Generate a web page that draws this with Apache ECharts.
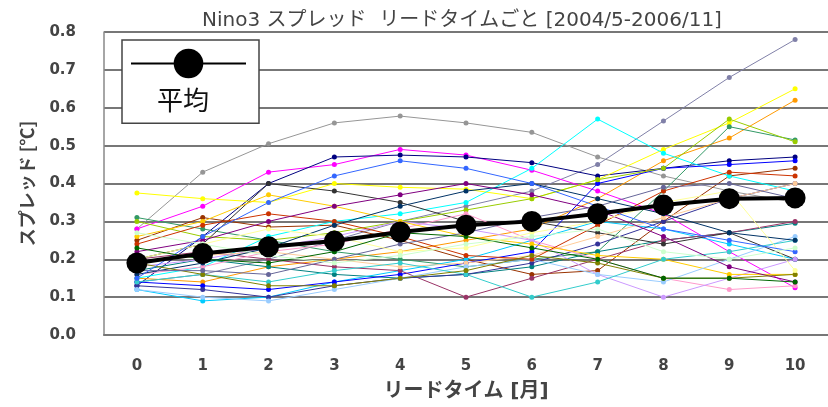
<!DOCTYPE html>
<html>
<head>
<meta charset="utf-8">
<script src="https://cdn.jsdelivr.net/npm/echarts@6/dist/echarts.min.js"></script>
<style>
  html, body { margin: 0; padding: 0; background: #fff; }
  #chart { width: 828px; height: 407px; }
</style>
</head>
<body>
<div id="chart"></div>
<script>
// lead time (months)
const leadTimes = ['0', '1', '2', '3', '4', '5', '6', '7', '8', '9', '10']

// ensemble mean spread
const meanSpread = [0.19, 0.215, 0.233, 0.248, 0.272, 0.29, 0.30, 0.32, 0.343, 0.36, 0.362]

// individual spreads (rough)
const memberColors = [
  '#969696', '#8080a8', '#ff00ff', '#000080', '#ffff00', '#ff9900', '#993300', '#339966',
  '#008080', '#00ffff', '#00ccff', '#0000ff', '#993366', '#333333', '#99cc00', '#333399',
  '#ff99cc', '#cc99ff', '#ffcc99', '#ffcc00', '#99ccff', '#33cccc', '#cc3300', '#003366',
  '#800080', '#808000', '#666699', '#ffff99', '#3366ff', '#006600', '#ccffcc',
]
const memberSpreads = [
  [0.28, 0.43, 0.505, 0.56, 0.578, 0.56, 0.535, 0.47, 0.42, 0.38, 0.35],
  [0.14, 0.16, 0.20, 0.25, 0.30, 0.34, 0.38, 0.45, 0.565, 0.68, 0.78],
  [0.28, 0.34, 0.43, 0.45, 0.49, 0.475, 0.435, 0.38, 0.32, 0.22, 0.125],
  [0.13, 0.26, 0.40, 0.47, 0.475, 0.47, 0.455, 0.42, 0.44, 0.46, 0.47],
  [0.375, 0.36, 0.35, 0.40, 0.39, 0.385, 0.36, 0.41, 0.49, 0.56, 0.65],
  [0.15, 0.14, 0.18, 0.20, 0.22, 0.25, 0.28, 0.36, 0.46, 0.52, 0.62],
  [0.25, 0.31, 0.285, 0.29, 0.25, 0.20, 0.16, 0.17, 0.30, 0.42, 0.44],
  [0.31, 0.28, 0.25, 0.22, 0.20, 0.18, 0.20, 0.22, 0.38, 0.55, 0.515],
  [0.17, 0.20, 0.18, 0.16, 0.15, 0.16, 0.18, 0.22, 0.25, 0.27, 0.295],
  [0.15, 0.18, 0.26, 0.30, 0.32, 0.35, 0.44, 0.57, 0.48, 0.42, 0.38],
  [0.12, 0.09, 0.10, 0.14, 0.17, 0.20, 0.25, 0.30, 0.28, 0.24, 0.20],
  [0.14, 0.13, 0.12, 0.14, 0.16, 0.19, 0.22, 0.40, 0.44, 0.45, 0.46],
  [0.20, 0.22, 0.20, 0.18, 0.17, 0.10, 0.15, 0.20, 0.25, 0.27, 0.30],
  [0.20, 0.24, 0.40, 0.38, 0.35, 0.30, 0.30, 0.27, 0.24, 0.27, 0.20],
  [0.30, 0.26, 0.25, 0.27, 0.30, 0.33, 0.36, 0.41, 0.44, 0.57, 0.51],
  [0.13, 0.12, 0.10, 0.13, 0.15, 0.16, 0.19, 0.24, 0.30, 0.36, 0.40],
  [0.16, 0.18, 0.22, 0.24, 0.28, 0.32, 0.25, 0.20, 0.15, 0.12, 0.13],
  [0.18, 0.20, 0.23, 0.26, 0.30, 0.28, 0.25, 0.16, 0.10, 0.15, 0.20],
  [0.19, 0.21, 0.22, 0.20, 0.18, 0.19, 0.21, 0.26, 0.31, 0.36, 0.40],
  [0.26, 0.30, 0.37, 0.34, 0.30, 0.26, 0.24, 0.21, 0.20, 0.16, 0.16],
  [0.12, 0.10, 0.09, 0.12, 0.15, 0.18, 0.20, 0.16, 0.14, 0.20, 0.26],
  [0.14, 0.16, 0.14, 0.17, 0.19, 0.16, 0.10, 0.14, 0.20, 0.22, 0.25],
  [0.24, 0.29, 0.32, 0.30, 0.26, 0.21, 0.20, 0.29, 0.38, 0.43, 0.42],
  [0.16, 0.19, 0.23, 0.29, 0.34, 0.38, 0.40, 0.36, 0.32, 0.27, 0.25],
  [0.22, 0.25, 0.30, 0.34, 0.37, 0.40, 0.37, 0.33, 0.26, 0.18, 0.14],
  [0.19, 0.16, 0.13, 0.13, 0.15, 0.17, 0.21, 0.19, 0.15, 0.15, 0.16],
  [0.17, 0.17, 0.16, 0.20, 0.24, 0.27, 0.31, 0.34, 0.39, 0.40, 0.36],
  [0.20, 0.24, 0.28, 0.26, 0.22, 0.23, 0.27, 0.30, 0.35, 0.38, 0.17],
  [0.15, 0.26, 0.35, 0.42, 0.46, 0.44, 0.40, 0.34, 0.28, 0.25, 0.22],
  [0.23, 0.20, 0.19, 0.22, 0.27, 0.26, 0.23, 0.20, 0.15, 0.15, 0.14],
  [0.27, 0.24, 0.21, 0.19, 0.21, 0.24, 0.26, 0.28, 0.22, 0.20, 0.23],
]

const jpFont = '"DejaVu Sans", "Noto Sans CJK JP", sans-serif'
const cjkFont = '"Noto Sans CJK JP", "DejaVu Sans", sans-serif'
const numFont = '"DejaVu Sans", sans-serif'

const chart = echarts.init(document.getElementById('chart'))

const memberSeries = memberSpreads.map((vals, i) => ({
  name: 'member' + (i + 1),
  type: 'line',
  data: vals,
  symbol: 'circle',
  symbolSize: 5,
  lineStyle: { width: 1, color: memberColors[i] },
  itemStyle: { color: memberColors[i] },
  z: 2,
}))

chart.setOption({
  animation: false,
  title: {
    text: 'Nino3 スプレッド  リードタイムごと [2004/5-2006/11]',
    left: 457,
    top: 6,
    textAlign: 'center',
    textStyle: { fontFamily: jpFont, fontSize: 20, fontWeight: 'normal', color: '#444' },
  },
  legend: {
    data: ['平均'],
    left: 122,
    top: 40,
    padding: [5, 12, 45, 8],
    itemWidth: 115,
    itemHeight: 37,
    formatter: () => '',
    borderColor: '#444',
    borderWidth: 1.5,
    backgroundColor: '#fff',
    selectedMode: false,
  },
  graphic: [{
    type: 'text',
    left: 157,
    top: 87,
    z: 100,
    style: { text: '平均', font: '26px "Noto Sans CJK JP", sans-serif', fill: '#111' },
  }],
  grid: { left: 104, right: -4, top: 32, bottom: 69 },
  xAxis: {
    type: 'category',
    data: leadTimes,
    boundaryGap: true,
    name: 'リードタイム [月]',
    nameLocation: 'middle',
    nameGap: 47,
    nameTextStyle: { fontFamily: jpFont, fontSize: 20, fontWeight: 'bold', color: '#444' },
    axisLine: { lineStyle: { color: '#777', width: 2 } },
    axisTick: { inside: true, length: 6, lineStyle: { color: '#777', width: 1.5 } },
    axisLabel: { margin: 24, fontFamily: numFont, fontSize: 15, fontWeight: 'bold', color: '#444' },
  },
  yAxis: {
    type: 'value',
    min: 0,
    max: 0.8,
    interval: 0.1,
    name: 'スプレッド [℃]',
    nameLocation: 'middle',
    nameGap: 68,
    nameTextStyle: { fontFamily: cjkFont, fontSize: 18, fontWeight: 'bold', color: '#444' },
    axisLine: { show: true, lineStyle: { color: '#888', width: 1.5 } },
    axisTick: { show: false },
    axisLabel: { margin: 28, fontFamily: numFont, fontSize: 15, fontWeight: 'bold', color: '#444', formatter: v => v.toFixed(1) },
    splitLine: { lineStyle: { color: '#777', width: 2 } },
  },
  series: [
    ...memberSeries,
    {
      name: '平均',
      type: 'line',
      data: meanSpread,
      symbol: 'circle',
      symbolSize: 21,
      lineStyle: { width: 4, color: '#000' },
      itemStyle: { color: '#000' },
      z: 10,
    },
  ],
})
</script>
</body>
</html>
